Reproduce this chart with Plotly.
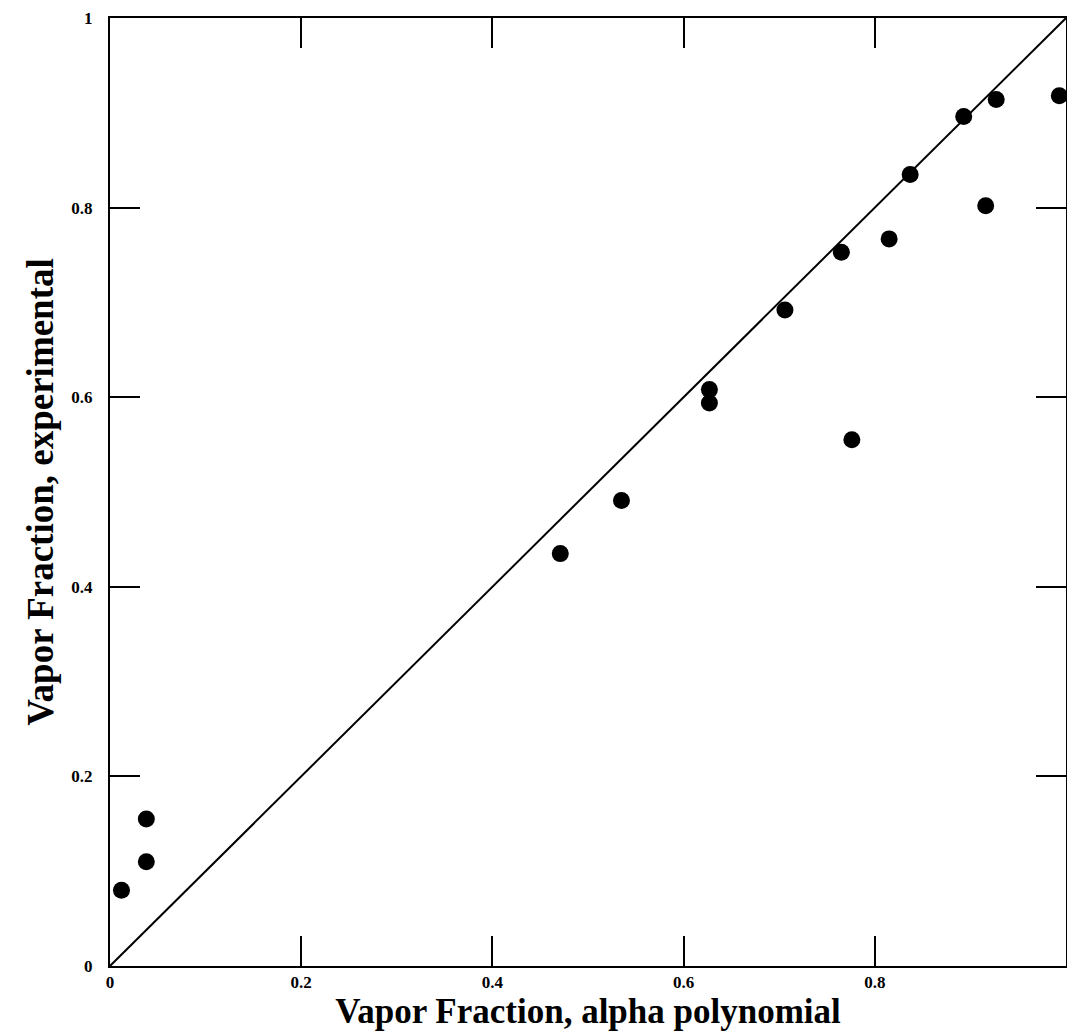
import plotly.graph_objects as go

# Data
alpha_polynomial = [0.012, 0.038, 0.038, 0.471, 0.535, 0.627, 0.627, 0.706,
                    0.765, 0.776, 0.815, 0.837, 0.893, 0.916, 0.927, 0.993]
experimental = [0.080, 0.110, 0.155, 0.435, 0.491, 0.608, 0.594, 0.692,
                0.753, 0.555, 0.767, 0.835, 0.896, 0.802, 0.914, 0.918]
identity_line = [0, 1]
tick_vals = [0, 0.2, 0.4, 0.6, 0.8, 1]
tick_text = ["0", "0.2", "0.4", "0.6", "0.8", "1"]

serif = "Liberation Serif"

fig = go.Figure()
fig.add_trace(go.Scatter(x=identity_line, y=identity_line, mode="lines",
                         line=dict(color="black", width=2), showlegend=False,
                         hoverinfo="skip"))
fig.add_trace(go.Scatter(x=alpha_polynomial, y=experimental, mode="markers",
                         marker=dict(color="black", size=17), showlegend=False))

axis_common = dict(
    range=[0, 1], tickvals=tick_vals, ticktext=tick_text,
    ticks="inside", ticklen=30, tickwidth=1.5, tickcolor="black",
    showline=True, linecolor="black", linewidth=2, mirror="ticks",
    showgrid=False, zeroline=False,
    tickfont=dict(family=serif, size=17, color="black", weight="bold"),
)

fig.update_xaxes(**axis_common, ticklabelstandoff=0,
                 title=dict(text="Vapor Fraction, alpha polynomial",
                            font=dict(family=serif, size=35, color="black", weight="bold"),
                            standoff=2))
fig.update_yaxes(**axis_common, ticklabelstandoff=12,
                 title=dict(text="Vapor Fraction, experimental",
                            font=dict(family=serif, size=37, color="black", weight="bold"),
                            standoff=6))

fig.update_layout(
    width=1067, height=1032,
    margin=dict(l=110, r=1, t=18, b=66, autoexpand=False),
    plot_bgcolor="white", paper_bgcolor="white",
)

fig.write_html("out.html")
